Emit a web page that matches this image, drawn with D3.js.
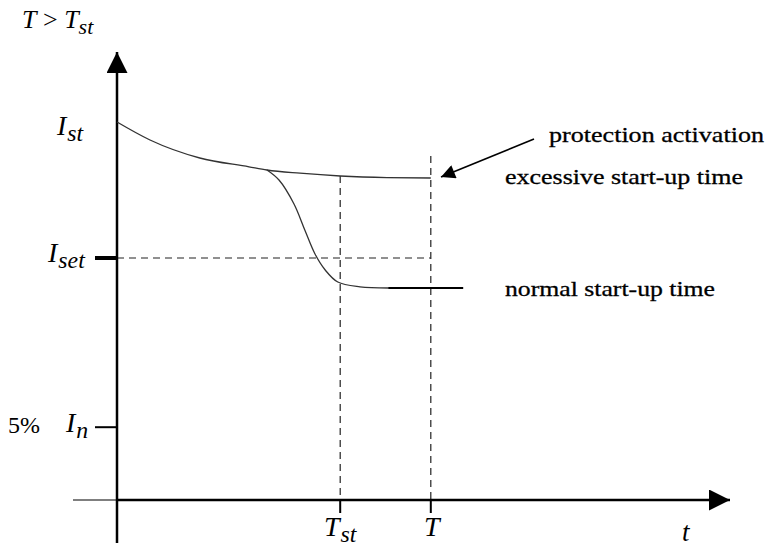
<!DOCTYPE html>
<html>
<head>
<meta charset="utf-8">
<script src="https://cdn.jsdelivr.net/npm/d3@7"></script>
<style>
  body { margin: 0; background: #fff; }
</style>
</head>
<body>
<svg id="chart" width="766" height="549"></svg>
<script>
// Data (time units 0..100, current units 0..110)
var upperT = [0, 5.5, 13.8, 22, 25, 30.5, 37.2, 45, 52.3];
var upperI = [94.5, 90, 85.5, 83.3, 82.5, 81.7, 81, 80.6, 80.5];

var normalT = [25, 27, 29.5, 31.3, 33, 34.7, 36.8, 40.5, 45.2];
var normalI = [82.5, 80, 74, 67.5, 61.5, 57.5, 54.5, 53.3, 53];
var normalTail = [45.2, 57.7];

var tSt = 37.2, tT = 52.3;
var iSet = 60.5, iN = 18.2;

var yTicks = [
    {value: iSet, main: 'I', sub: 'set', width: 4},
    {value: iN, main: 'I', sub: 'n', width: 2}
];
var xTicks = [
    {value: tSt, main: 'T', sub: 'st'},
    {value: tT, main: 'T', sub: ''}
];

var serif = 'Liberation Serif';
var svg = d3.select('#chart');

var x = d3.scaleLinear().domain([0, 100]).range([117, 717]);
var y = d3.scaleLinear().domain([0, 110]).range([500, 60]);

// arrow markers
var defs = svg.append('defs');
defs.append('marker')
    .attr('id', 'bigArrow')
    .attr('viewBox', '0 0 10 10')
    .attr('refX', 10).attr('refY', 5)
    .attr('markerUnits', 'userSpaceOnUse')
    .attr('markerWidth', 34).attr('markerHeight', 21)
    .attr('orient', 'auto')
    .append('path')
    .attr('d', 'M0,0 L10,5 L0,10 Z')
    .attr('fill', '#000');

defs.append('marker')
    .attr('id', 'smallArrow')
    .attr('viewBox', '0 0 10 10')
    .attr('refX', 10).attr('refY', 5)
    .attr('markerUnits', 'userSpaceOnUse')
    .attr('markerWidth', 17).attr('markerHeight', 14)
    .attr('orient', 'auto')
    .append('path')
    .attr('d', 'M0,0 L10,5 L0,10 Z')
    .attr('fill', '#000');

// dashed guide lines
var dash = '7,5';
svg.append('line')
    .attr('x1', x(0)).attr('x2', x(tT))
    .attr('y1', y(iSet)).attr('y2', y(iSet))
    .attr('stroke', '#222').attr('stroke-width', 1.2)
    .attr('stroke-dasharray', dash);
svg.append('line')
    .attr('x1', x(tSt)).attr('x2', x(tSt))
    .attr('y1', y(81)).attr('y2', y(0))
    .attr('stroke', '#222').attr('stroke-width', 1.2)
    .attr('stroke-dasharray', dash);
svg.append('line')
    .attr('x1', x(tT)).attr('x2', x(tT))
    .attr('y1', y(86)).attr('y2', y(0))
    .attr('stroke', '#222').attr('stroke-width', 1.2)
    .attr('stroke-dasharray', dash);

// axes
svg.append('line')
    .attr('x1', 73).attr('x2', x(0))
    .attr('y1', y(0)).attr('y2', y(0))
    .attr('stroke', '#555').attr('stroke-width', 1.5);
svg.append('line')
    .attr('x1', x(0)).attr('x2', 730)
    .attr('y1', y(0)).attr('y2', y(0))
    .attr('stroke', '#000').attr('stroke-width', 2.5)
    .attr('marker-end', 'url(#bigArrow)');
svg.append('line')
    .attr('x1', x(0)).attr('x2', x(0))
    .attr('y1', 543).attr('y2', 52)
    .attr('stroke', '#000').attr('stroke-width', 2.5)
    .attr('marker-end', 'url(#bigArrow)');

// y ticks
yTicks.forEach(function(d) {
    svg.append('line')
        .attr('x1', 95).attr('x2', x(0))
        .attr('y1', y(d.value)).attr('y2', y(d.value))
        .attr('stroke', '#000').attr('stroke-width', d.width);
});

// x ticks
xTicks.forEach(function(d) {
    svg.append('line')
        .attr('x1', x(d.value)).attr('x2', x(d.value))
        .attr('y1', y(0)).attr('y2', 513)
        .attr('stroke', '#000').attr('stroke-width', 2);
});

// curves
var line = d3.line()
    .x(function(d) { return x(d[0]); })
    .y(function(d) { return y(d[1]); })
    .curve(d3.curveMonotoneX);

svg.append('path')
    .datum(d3.zip(upperT, upperI))
    .attr('d', line)
    .attr('fill', 'none')
    .attr('stroke', '#333').attr('stroke-width', 1.3);

svg.append('path')
    .datum(d3.zip(normalT, normalI))
    .attr('d', d3.line()
        .x(function(d) { return x(d[0]); })
        .y(function(d) { return y(d[1]); })
        .curve(d3.curveCatmullRom))
    .attr('fill', 'none')
    .attr('stroke', '#333').attr('stroke-width', 1.3);

svg.append('line')
    .attr('x1', x(normalTail[0])).attr('x2', x(normalTail[1]))
    .attr('y1', y(53)).attr('y2', y(53))
    .attr('stroke', '#000').attr('stroke-width', 2);

// protection arrow
svg.append('line')
    .attr('x1', 534).attr('y1', 139)
    .attr('x2', 441).attr('y2', 177)
    .attr('stroke', '#000').attr('stroke-width', 1.6)
    .attr('marker-end', 'url(#smallArrow)');

// math label helper
function mathLabel(px, py, main, sub, size) {
    var t = svg.append('text')
        .attr('x', px).attr('y', py)
        .attr('font-family', serif)
        .attr('font-style', 'italic')
        .attr('font-size', size);
    t.append('tspan').text(main);
    if (sub) {
        t.append('tspan')
            .attr('dx', 1)
            .attr('dy', 6)
            .attr('font-size', size * 0.85)
            .text(sub);
    }
    return t;
}

// top title T > Tst
var title = svg.append('text')
    .attr('x', 22).attr('y', 28)
    .attr('font-family', serif)
    .attr('font-size', 26);
title.append('tspan').attr('font-style', 'italic').text('T');
title.append('tspan').text(' > ');
title.append('tspan').attr('font-style', 'italic').text('T');
title.append('tspan').attr('font-style', 'italic').attr('dy', 6).attr('font-size', 22).text('st');

mathLabel(57, 135, 'I', 'st', 28);
mathLabel(48, 262, 'I', 'set', 28);
mathLabel(66, 432, 'I', 'n', 28);
svg.append('text')
    .attr('x', 8).attr('y', 433)
    .attr('font-family', serif)
    .attr('font-size', 24)
    .text('5%');

mathLabel(324, 536, 'T', 'st', 28);
mathLabel(424, 536, 'T', '', 28);
mathLabel(682, 541, 't', '', 27);

// annotations
var notes = [
    {text: 'protection activation', x: 549, y: 142, len: 215},
    {text: 'excessive start-up time', x: 505, y: 184, len: 238},
    {text: 'normal start-up time', x: 505, y: 296, len: 210}
];
notes.forEach(function(n) {
    svg.append('text')
        .attr('x', n.x).attr('y', n.y)
        .attr('font-family', serif)
        .attr('font-size', 22)
        .attr('textLength', n.len).attr('lengthAdjust', 'spacingAndGlyphs')
        .attr('fill', '#000')
        .attr('stroke', '#000').attr('stroke-width', 0.3)
        .text(n.text);
});
</script>
</body>
</html>
